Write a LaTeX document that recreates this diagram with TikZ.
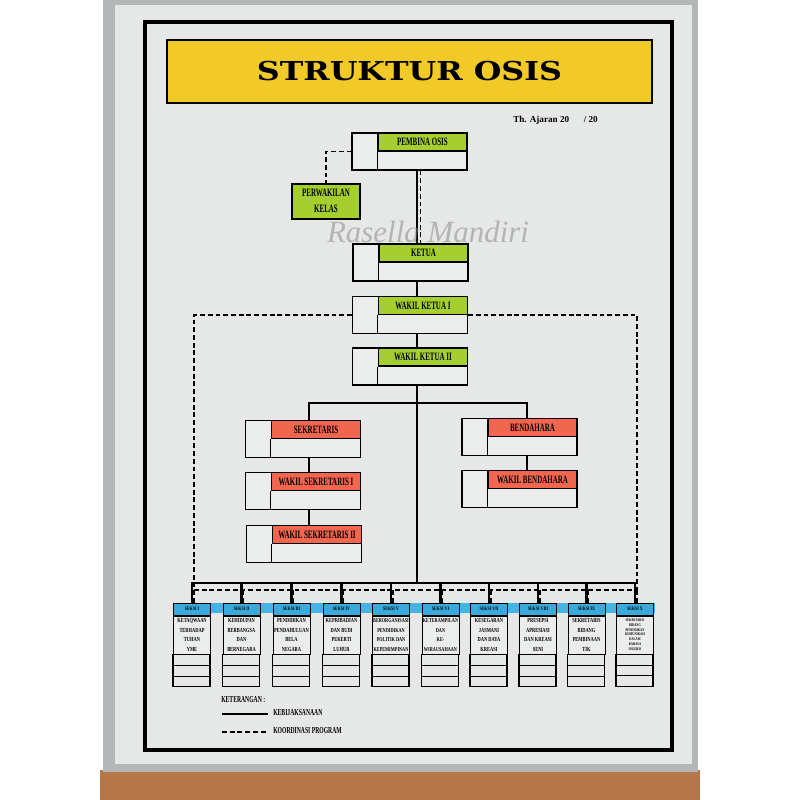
\documentclass[tikz,border=0pt]{standalone}
\usepackage{fontspec}
\setmainfont{Liberation Serif}
\newfontfamily\titlefont{DejaVu Serif}
\usepackage{graphicx}
\usetikzlibrary{positioning, calc}
\definecolor{osisyellow}{HTML}{F2CA27}
\definecolor{osisgreen}{HTML}{A4CF2E}
\definecolor{osisred}{HTML}{F26650}
\definecolor{osisblue}{HTML}{3AA9DC}
\definecolor{bandblue}{HTML}{45B3E4}
\definecolor{boardgray}{HTML}{E6E8E7}
\definecolor{boardlight}{HTML}{EBEDEC}
\definecolor{framegray}{HTML}{B4B7B7}
\definecolor{woodbrown}{HTML}{B5774A}

\newcommand{\narrow}[1]{\scalebox{0.62}[1]{#1}}
\newcommand{\seksitxt}[2]{\scalebox{0.72}[1]{#1\begin{tabular}{@{}c@{}}#2\end{tabular}}}

% one post: frame, coloured header, blank cell on the left
\newcommand{\postbox}[5]{%
  \node[postframe] (#1) at (#2,#3) {};
  \node[posthead=#4] (#1-h) at (#1.north east) {\narrow{#5}};
  \draw[boxline] (#1-h.south west) -- (#1-h.south west |- #1.south);
}

\begin{document}
\begin{tikzpicture}[x=0.025cm, y=-0.025cm,
  boxline/.style={line width=0.8pt},
  postframe/.style={rectangle, draw, line width=0.8pt, fill=boardlight,
                    minimum width=2.875cm, minimum height=0.925cm, inner sep=0pt},
  posthead/.style={rectangle, draw, line width=0.8pt, fill=#1, anchor=north east,
                   minimum width=2.225cm, minimum height=0.45cm, inner sep=0pt,
                   font=\fontsize{8}{9}\selectfont\bfseries},
  repbox/.style={rectangle, draw, line width=0.8pt, fill=osisgreen,
                 minimum width=1.7cm, minimum height=0.875cm, inner sep=0pt,
                 font=\fontsize{8}{11.4}\selectfont\bfseries},
  seksihead/.style={rectangle, draw, line width=0.7pt, fill=osisblue,
                    minimum width=0.925cm, minimum height=0.3cm, inner sep=0pt,
                    font=\fontsize{3.8}{4}\selectfont\bfseries},
  seksibody/.style={rectangle, draw, line width=0.7pt, fill=boardlight,
                    minimum width=0.925cm, minimum height=0.95cm, inner sep=0pt},
  titlebox/.style={rectangle, draw, line width=1.5pt, fill=osisyellow,
                   minimum width=12.125cm, minimum height=1.575cm},
  policy/.style={line width=1.6pt},
  coordline/.style={line width=1.3pt, dash pattern=on 3.5pt off 2pt},
  legendtxt/.style={font=\fontsize{6.5}{7}\selectfont\bfseries, inner sep=0pt, anchor=west}
]

% board and frame
\fill[white] (0,0) rectangle (800,800);
\fill[woodbrown] (100,770) rectangle (700,800);
\fill[framegray] (103,0) rectangle (698,772);
\fill[boardgray] (115,5) rectangle (692,764);
\draw[line width=2.2pt] (145,22) rectangle (672,750);

% title
\node[titlebox] (title) at (409.5,71.5) {\scalebox{1.22}[1]{\titlefont\bfseries\fontsize{18.5}{20}\selectfont STRUKTUR OSIS}};
\node[font=\fontsize{6.5}{7}\selectfont\bfseries, anchor=west, inner sep=0pt] (tahun) at (513,120) {Th. Ajaran 20\hspace{1.6em}/ 20};

% top posts
\postbox{pemb}{409.5}{151.5}{osisgreen}{PEMBINA OSIS}
\node[repbox] (perw) at (326,201.5) {\narrow{\begin{tabular}{@{}c@{}}PERWAKILAN\\KELAS\end{tabular}}};
\postbox{ketua}{410.5}{262.5}{osisgreen}{KETUA}
\postbox{wk1}{410}{315}{osisgreen}{WAKIL KETUA I}
\postbox{wk2}{410}{366.5}{osisgreen}{WAKIL KETUA II}

% secretary and treasurer
\postbox{sekr}{303}{439}{osisred}{SEKRETARIS}
\postbox{ws1}{303}{491}{osisred}{WAKIL SEKRETARIS I}
\postbox{ws2}{304}{544}{osisred}{WAKIL SEKRETARIS II}
\postbox{bend}{519.5}{437}{osisred}{BENDAHARA}
\postbox{wbend}{519.5}{489}{osisred}{WAKIL BENDAHARA}

% sections
\fill[bandblue] (173,603) rectangle (655,613);
\foreach \i/\x/\num/\fs/\txt in {
  1/192/I/{\fontsize{4.4}{6.8}\selectfont}/{KETAQWAAN\\TERHADAP\\TUHAN\\YME},
  2/241.5/II/{\fontsize{4.4}{6.8}\selectfont}/{KEHIDUPAN\\BERBANGSA\\DAN\\BERNEGARA},
  3/291.5/III/{\fontsize{4.4}{6.8}\selectfont}/{PENDIDIKAN\\PENDAHULUAN\\BELA\\NEGARA},
  4/341.5/IV/{\fontsize{4.4}{6.8}\selectfont}/{KEPRIBADIAN\\DAN BUDI\\PEKERTI\\LUHUR},
  5/391/V/{\fontsize{4.2}{6.8}\selectfont}/{BERORGANISASI\\PENDIDIKAN\\POLITIK DAN\\KEPEMIMPINAN},
  6/440.5/VI/{\fontsize{4.2}{6.8}\selectfont}/{KETERAMPILAN\\DAN\\KE-\\WIRAUSAHAAN},
  7/489/VII/{\fontsize{4.4}{6.8}\selectfont}/{KESEGARAN\\JASMANI\\DAN DAYA\\KREASI},
  8/538/VIII/{\fontsize{4.4}{6.8}\selectfont}/{PRESEPSI\\APRESIASI\\DAN KREASI\\SENI},
  9/586.5/IX/{\fontsize{4.4}{6.8}\selectfont}/{SEKRETARIS\\BIDANG\\PEMBINAAN\\TIK},
  10/635/X/{\fontsize{2.9}{3.5}\selectfont}/{SEKRETARIS\\BIDANG\\PENDIDIKAN\\KOMUNIKASI\\DALAM\\BAHASA\\INGGRIS}} {
  \node[seksihead] (s\i) at (\x,609) {\scalebox{0.75}[1]{SEKSI \num}};
  \node[seksibody, below=0pt of s\i] (s\i-b) {\seksitxt{\fs\bfseries}{\txt}};
  \foreach \r in {0,1,2}
    \draw[boxline] (s\i-b.south west) ++(0,{\r*10.7}) rectangle ++(37,10.7);
  \coordinate (d\i) at ([xshift=0.05cm]s\i.north);
}

% helper columns and buses
\coordinate (spine) at (417,0);
\coordinate (spine2) at (420.5,0);
\coordinate (sekcol) at (309,0);
\coordinate (bencol) at (527,0);
\coordinate (branch) at (0,403);
\coordinate (bus) at (0,583);
\coordinate (dbus) at (0,590);

% lines of policy
\draw[policy] (pemb.south -| spine) -- (ketua.north -| spine);
\draw[policy] (ketua.south -| spine) -- (wk1.north -| spine);
\draw[policy] (wk1.south -| spine) -- (wk2.north -| spine);
\draw[policy] (wk2.south -| spine) -- (spine |- bus);
\draw[policy] (sekr.north -| sekcol) |- (branch -| spine) -| (bend.north -| bencol);
\draw[policy] (sekr.south -| sekcol) -- (ws1.north -| sekcol);
\draw[policy] (ws1.south -| sekcol) -- (ws2.north -| sekcol);
\draw[policy] (bend.south -| bencol) -- (wbend.north -| bencol);
\draw[policy] (s1.north) -- (s1.north |- bus) -- (s10.north |- bus) -- (s10.north);
\foreach \i in {2,...,9}
  \draw[policy] (s\i.north) -- (s\i.north |- bus);

% lines of coordination
\draw[coordline] (pemb.west |- pemb-h.south) -| (perw.north);
\draw[coordline] (pemb.south -| spine2) -- (ketua.north -| spine2);
\draw[coordline] (wk1.west |- wk1-h.south) -| (d1 |- dbus);
\draw[coordline] (wk1.east |- wk1-h.south) -| (d10 |- dbus);
\draw[coordline] (d1 |- dbus) -- (d10 |- dbus);
\foreach \i in {1,...,10}
  \draw[coordline] (d\i) -- (d\i |- dbus);

% legend
\node[legendtxt] (ket) at (221,700) {\narrow{KETERANGAN :}};
\coordinate (leg1a) at (222,714);
\coordinate (leg1b) at (268,714);
\coordinate (leg2a) at (222,732);
\coordinate (leg2b) at (268,732);
\draw[policy] (leg1a) -- (leg1b);
\draw[coordline, line width=1.8pt] (leg2a) -- (leg2b);
\node[legendtxt] (kebij) at (273,713) {\narrow{KEBIJAKSANAAN}};
\node[legendtxt] (koord) at (273,731) {\narrow{KOORDINASI PROGRAM}};

% watermark
\node[text=gray, opacity=0.5, font=\itshape\fontsize{22}{24}\selectfont] (mark) at (428,232) {Rasella Mandiri};

\end{tikzpicture}
\end{document}
